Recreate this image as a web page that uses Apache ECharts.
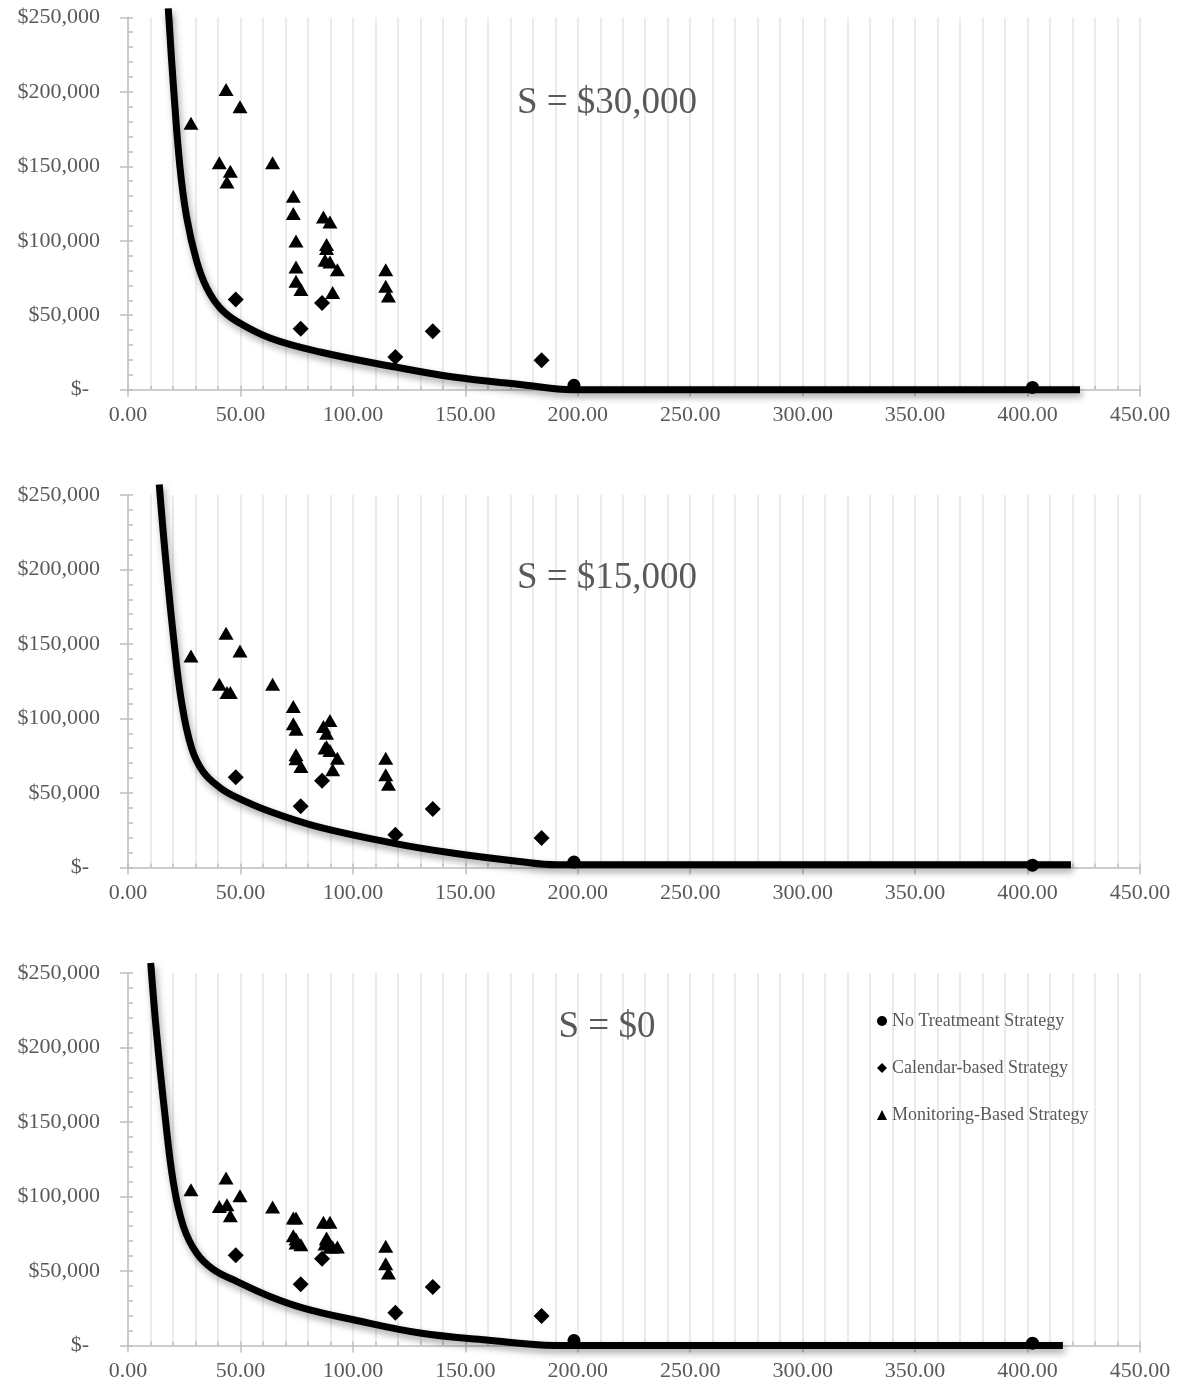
<!DOCTYPE html>
<html>
<head>
<meta charset="utf-8">
<script src="https://cdn.jsdelivr.net/npm/echarts@6/dist/echarts.min.js"></script>
<style>
  html, body { margin: 0; padding: 0; background: #ffffff; }
  #chart { width: 1188px; height: 1390px; }
</style>
</head>
<body>
<div id="chart"></div>
<script>
// Strategy cost against the x measure, for three values of S.
const panelLabels = ['S = $30,000', 'S = $15,000', 'S = $0'];
const seriesNames = ['No Treatmeant Strategy', 'Calendar-based Strategy', 'Monitoring-Based Strategy'];

// No-treatment strategy points
const noTreatX = [198.3, 402.2];
const noTreatY30 = [3000, 1500];
const noTreatY15 = [3600, 1500];
const noTreatY0 = [3300, 1500];

// Calendar-based strategy points (same in every panel)
const calendarX = [47.9, 76.8, 86.3, 118.9, 135.5, 183.9];
const calendarY = [60500, 41000, 58200, 21900, 39200, 19700];

// Monitoring-based strategy points
const monitorX = [28.0, 43.6, 49.8, 40.6, 45.5, 44.0, 64.3, 73.5, 73.5, 74.7, 74.7, 74.7,
                  76.9, 86.9, 89.8, 88.3, 88.3, 87.6, 89.8, 93.1, 91.0, 114.6, 114.6, 115.8];
const monitorY30 = [178800, 201600, 189900, 152300, 146700, 139500, 152300, 129900, 118300, 99900, 82400, 72800,
                    67200, 116000, 112600, 97400, 94800, 86900, 85800, 80600, 65200, 80600, 69400, 62900];
const monitorY15 = [142000, 157200, 145300, 123000, 117400, 117400, 123000, 108000, 96400, 92800, 75600, 73000,
                    67800, 94600, 98600, 90100, 81000, 80100, 78500, 73300, 65500, 73300, 62200, 55900];
const monitorY0 = [104500, 112400, 100500, 93300, 87100, 94500, 92900, 85500, 73600, 85500, 71400, 68700,
                   67600, 82600, 82600, 71400, 72100, 68000, 66000, 66000, 66000, 66500, 54800, 48600];

// Cost frontier curves
const curveX30 = [17.9, 20.1, 23.1, 26.1, 30.5, 35.0, 40.9, 48.3, 63.1, 85.4, 118.9, 144.7, 174.3, 198.0, 423.3];
const curveY30 = [256000, 205900, 149500, 115700, 86500, 68400, 54900, 45900, 34700, 25300, 15200, 8500, 3500, 0, 0];
const curveX15 = [13.9, 16.5, 20.2, 23.9, 28.3, 33.5, 40.9, 48.3, 63.1, 85.0, 118.9, 145.0, 174.0, 190.5, 419.3];
const curveY15 = [257000, 210900, 155000, 110200, 80000, 64000, 53500, 47000, 37500, 27000, 16000, 9500, 4000, 1800, 1800];
const curveX0 = [10.1, 12.7, 16.5, 20.2, 24.6, 30.5, 37.9, 48.3, 63.1, 78.0, 100.2, 129.8, 159.5, 190.0, 415.7];
const curveY0 = [256700, 209700, 153800, 109000, 80000, 62000, 51000, 43000, 32900, 25100, 17200, 8300, 3600, 0, 0];

// Axis ranges and tick steps
const xMin = 0, xMax = 450, xMajor = 50, xMinor = 10;
const yMin = 0, yMax = 250000, yMajor = 50000, yMinor = 10000;

const panels = [
  { label: panelLabels[0], noTreatY: noTreatY30, monitorY: monitorY30, curveX: curveX30, curveY: curveY30 },
  { label: panelLabels[1], noTreatY: noTreatY15, monitorY: monitorY15, curveX: curveX15, curveY: curveY15 },
  { label: panelLabels[2], noTreatY: noTreatY0, monitorY: monitorY0, curveX: curveX0, curveY: curveY0 }
];

const zip = (xs, ys) => xs.map((x, i) => [x, ys[i]]);

const FONT = '"Liberation Serif", "Times New Roman", serif';
const TEXT_GREY = '#595959';
const AXIS_GREY = '#bfbfbf';

const gridTops = [17.3, 495, 973];
const plotHeight = 372.4;

function moneyLabel(v) {
  if (v === 0) return '$-\u2002';
  return '$' + String(Math.round(v)).replace(/\B(?=(\d{3})+(?!\d))/g, ',');
}

const grids = [], xAxes = [], yAxes = [], series = [], graphics = [];
const markStyle = { color: '#000000', opacity: 1 };

panels.forEach((p, i) => {
  grids.push({ left: 128, right: 48, top: gridTops[i], height: plotHeight });

  // main x axis: line, labels, long ticks
  xAxes.push({
    type: 'value', gridIndex: i, min: xMin, max: xMax, interval: xMajor, position: 'bottom',
    axisLine: { show: true, lineStyle: { color: AXIS_GREY, width: 1.5 } },
    axisTick: { show: true, inside: false, length: 7, lineStyle: { color: AXIS_GREY, width: 1.5 } },
    axisLabel: { show: true, margin: 15, color: TEXT_GREY, fontFamily: FONT, fontSize: 22,
                 formatter: v => v.toFixed(2) },
    splitLine: { show: false }
  });
  // minor x axis: vertical gridlines and short inner ticks
  xAxes.push({
    type: 'value', gridIndex: i, min: xMin, max: xMax, interval: xMinor, position: 'bottom',
    axisLine: { show: false },
    axisTick: { show: true, inside: true, length: 4, lineStyle: { color: AXIS_GREY, width: 1.5 } },
    axisLabel: { show: false },
    splitLine: { show: true, lineStyle: { color: '#e4e4e4', width: 1.5 } }
  });

  yAxes.push({
    type: 'value', gridIndex: i, min: yMin, max: yMax, interval: yMajor, position: 'left',
    axisLine: { show: true, lineStyle: { color: AXIS_GREY, width: 1.5 } },
    axisTick: { show: true, inside: false, length: 8, lineStyle: { color: AXIS_GREY, width: 1.5 } },
    axisLabel: { show: true, margin: 28, color: TEXT_GREY, fontFamily: FONT, fontSize: 22,
                 formatter: moneyLabel },
    splitLine: { show: false }
  });
  yAxes.push({
    type: 'value', gridIndex: i, min: yMin, max: yMax, interval: yMinor, position: 'left',
    axisLine: { show: false },
    axisTick: { show: true, inside: true, length: 5, lineStyle: { color: AXIS_GREY, width: 1.5 } },
    axisLabel: { show: false },
    splitLine: { show: false }
  });

  const xi = 2 * i, yi = 2 * i;

  series.push({
    name: 'frontier-' + i, type: 'line', xAxisIndex: xi, yAxisIndex: yi,
    data: zip(p.curveX, p.curveY), symbol: 'none', smooth: 0.4,
    clip: false, silent: true, z: 3,
    lineStyle: { color: '#000000', width: 7, cap: 'butt', join: 'round',
                 shadowColor: 'rgba(0,0,0,0.35)', shadowBlur: 7, shadowOffsetX: 2, shadowOffsetY: 4 }
  });
  series.push({
    name: seriesNames[0], type: 'scatter', xAxisIndex: xi, yAxisIndex: yi,
    data: zip(noTreatX, p.noTreatY), symbol: 'circle', symbolSize: 13, z: 4,
    itemStyle: markStyle
  });
  series.push({
    name: seriesNames[1], type: 'scatter', xAxisIndex: xi, yAxisIndex: yi,
    data: zip(calendarX, calendarY), symbol: 'diamond', symbolSize: 16, z: 4,
    itemStyle: markStyle
  });
  series.push({
    name: seriesNames[2], type: 'scatter', xAxisIndex: xi, yAxisIndex: yi,
    data: zip(monitorX, p.monitorY), symbol: 'triangle', symbolSize: [15, 13], z: 4,
    itemStyle: markStyle
  });
});

// panel captions
const captionCentres = [[607, 103], [607, 578], [607, 1027]];
panels.forEach((p, i) => {
  graphics.push({
    type: 'text', x: captionCentres[i][0], y: captionCentres[i][1], z: 10,
    style: {
      text: p.label, fill: TEXT_GREY, font: '37px ' + FONT,
      align: 'center', verticalAlign: 'middle', textAlign: 'center', textVerticalAlign: 'middle'
    }
  });
});

// legend, one entry per row inside the bottom panel
const legendIcons = ['circle', 'diamond', 'triangle'];
const legendCentres = [1021, 1068, 1115];
const legends = seriesNames.map((name, k) => ({
  data: [{ name: name, icon: legendIcons[k] }],
  left: 877, top: legendCentres[k] - 10, orient: 'vertical', padding: 0,
  itemWidth: 10, itemHeight: 10, itemGap: 0, selectedMode: false,
  textStyle: { color: TEXT_GREY, fontFamily: FONT, fontSize: 18, lineHeight: 20 },
  itemStyle: { color: '#000000', opacity: 1 }
}));

const chart = echarts.init(document.getElementById('chart'), null, { renderer: 'canvas' });
chart.setOption({
  backgroundColor: '#ffffff',
  animation: false,
  grid: grids,
  xAxis: xAxes,
  yAxis: yAxes,
  legend: legends,
  series: series,
  graphic: graphics
});
</script>
</body>
</html>
